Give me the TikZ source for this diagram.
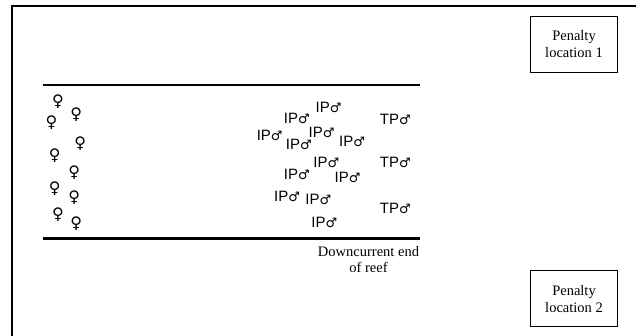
\documentclass[tikz,border=0pt]{standalone}
\usepackage{fontspec}
\setmainfont{Liberation Serif}
\setsansfont{Liberation Sans}
\newfontfamily\symfont{DejaVu Sans}
\begin{document}
\begin{tikzpicture}[x=1pt,y=-1pt,
  penbox/.style={draw,line width=0.9pt,minimum width=87pt,minimum height=56pt,inner sep=0pt,align=center,font=\fontsize{14.5}{17}\selectfont},
  fem/.style={inner sep=0pt,font=\symfont\fontsize{16}{16}\selectfont},
  male/.style={inner sep=0pt,font=\sffamily\fontsize{15}{15}\selectfont},
  reef/.style={line width=2.8pt},
  lbl/.style={inner sep=0pt,align=center,font=\fontsize{14.5}{16}\selectfont}]
\useasboundingbox (0,0) rectangle (636,335);
\clip (0,0) rectangle (636,335);
\fill[white] (0,0) rectangle (636,335);
% frame
\draw[line width=1.6pt] (12,345) -- (12,6) -- (650,6);
% penalty boxes
\node[penbox] (p1) at (574,44) {Penalty\\location 1};
\node[penbox] (p2) at (574,298.7) {Penalty\\location 2};
% reef edges
\coordinate (rtl) at (42.5,85);
\coordinate (rtr) at (419.5,85);
\coordinate (rbl) at (42.5,238.5);
\coordinate (rbr) at (419.5,238.5);
\draw[reef] (rtl) -- (rtr);
\draw[reef] (rbl) -- (rbr);
% label
\node[lbl] (dc) at (368.5,259.5) {Downcurrent end\\of reef};
% females
\newcommand{\fsym}{♀}
\node[fem] (f1) at (58,101.7) {\fsym};
\node[fem] (f2) at (76.2,115) {\fsym};
\node[fem] (f3) at (51.5,122.7) {\fsym};
\node[fem] (f4) at (80.3,144) {\fsym};
\node[fem] (f5) at (54.7,156) {\fsym};
\node[fem] (f6) at (74.2,172.3) {\fsym};
\node[fem] (f7) at (54.7,188.3) {\fsym};
\node[fem] (f8) at (74.2,197.3) {\fsym};
\node[fem] (f9) at (58,215) {\fsym};
\node[fem] (f10) at (76.2,223.3) {\fsym};
% males
\newcommand{\msym}{{\symfont\fontsize{13}{13}\selectfont ♂}}
\node[male] (m1) at (328.5,107.3) {IP\msym};
\node[male] (m2) at (296.8,118.3) {IP\msym};
\node[male] (t1) at (395.4,119) {TP\msym};
\node[male] (m3) at (269.7,135) {IP\msym};
\node[male] (m4) at (321.6,132.3) {IP\msym};
\node[male] (m5) at (298.9,144) {IP\msym};
\node[male] (m6) at (352,141.7) {IP\msym};
\node[male] (m7) at (326.4,162.3) {IP\msym};
\node[male] (t2) at (395.4,162.3) {TP\msym};
\node[male] (m8) at (296.8,174) {IP\msym};
\node[male] (m9) at (347.5,177.3) {IP\msym};
\node[male] (m10) at (287.1,196.7) {IP\msym};
\node[male] (m11) at (318.3,199) {IP\msym};
\node[male] (t3) at (395.4,208.3) {TP\msym};
\node[male] (m12) at (324.4,222.7) {IP\msym};
\end{tikzpicture}
\end{document}
